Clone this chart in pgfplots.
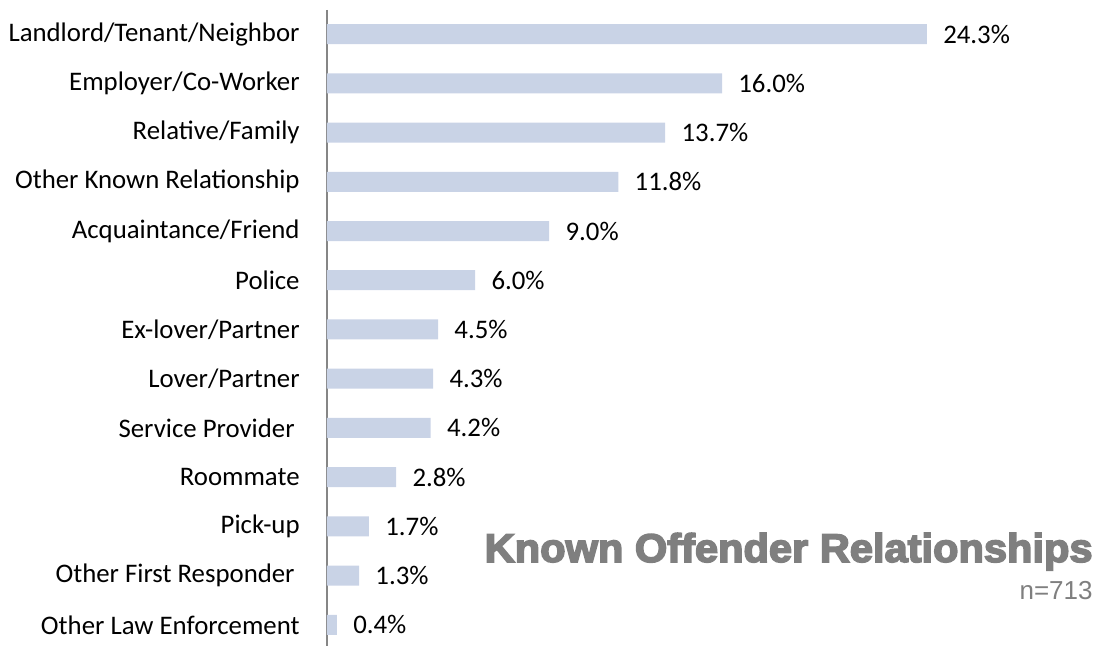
\documentclass[border=0pt]{standalone}
\usepackage{pgfplots}
\pgfplotsset{compat=1.18}
\usepackage{fontspec}
\setmainfont{Carlito}
\newfontfamily\titlefont{Liberation Sans}[BoldFont={Liberation Sans Bold},BoldFeatures={FakeBold=4}]
\newfontfamily\arialfont{Liberation Sans}
\definecolor{barc}{RGB}{201,211,230}
\definecolor{axgray}{RGB}{134,134,134}
\definecolor{ttlgray}{RGB}{127,127,127}
\begin{document}
\begin{tikzpicture}
\begin{axis}[
  scale only axis,
  width=385.5pt, height=318pt,
  xmin=0, xmax=31.23,
  ymin=-0.49, ymax=12.43,
  y dir=reverse,
  axis x line=none,
  axis y line=left,
  y axis line style={-, draw=axgray, line width=0.9pt},
  xbar, bar width=10pt,
  ytick={0,...,12},
  yticklabels={Landlord/Tenant/Neighbor, Employer/Co-Worker, Relative/Family, Other Known Relationship, Acquaintance/Friend, Police, Ex-lover/Partner, Lover/Partner, Service Provider\kern2.5pt, Roommate, Pick-up, Other First Responder\kern2.5pt, Other Law Enforcement},
  major tick length=0pt,
  yticklabel style={font=\fontsize{13.4}{15}\selectfont, inner sep=0pt, xshift=-13.5pt, text=black},
  /pgf/number format/assume math mode=true,
  nodes near coords={\pgfmathprintnumber[fixed,fixed zerofill,precision=1,assume math mode=true]{\pgfplotspointmeta}\%},
  every node near coord/.append style={font=\fontsize{13.4}{15}\selectfont, anchor=west, inner sep=0pt, xshift=8pt, text=black},
  point meta=x,
  clip=false,
]
\addplot[fill=barc, draw=none] coordinates {
(24.3,0) (16.0,1) (13.7,2) (11.8,3) (9.0,4) (6.0,5) (4.5,6) (4.3,7) (4.2,8) (2.8,9) (1.7,10) (1.3,11) (0.4,12)};
\end{axis}
\coordinate (se) at (current axis.south east);
\coordinate (nw) at (current axis.north west);
\node[anchor=base east, inner sep=0pt, text=ttlgray, xscale=1.04, font=\titlefont\bfseries\fontsize{20}{22}\selectfont] at ([xshift=-2.5pt, yshift=42pt]se) {Known Offender Relationships};
\node[anchor=base east, inner sep=0pt, text=ttlgray, font=\arialfont\fontsize{13}{15}\selectfont] at ([xshift=-2.5pt, yshift=23pt]se) {n=713};
\pgfresetboundingbox
\path ([xshift=-163.5pt, yshift=5pt]nw) rectangle (se);
\end{tikzpicture}
\end{document}
